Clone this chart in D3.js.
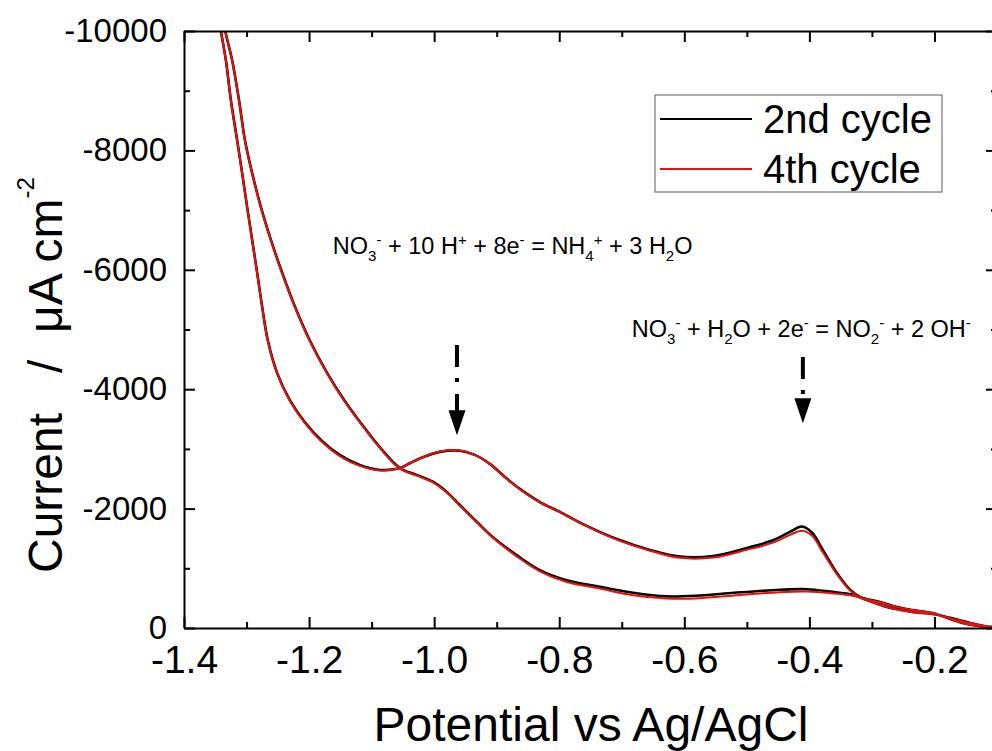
<!DOCTYPE html>
<html>
<head>
<meta charset="utf-8">
<script src="https://cdn.jsdelivr.net/npm/d3@7"></script>
<style>
  html, body { margin: 0; padding: 0; background: #fff; }
  text { font-family: "Liberation Sans", Arial, sans-serif; }
</style>
</head>
<body>
<div id="cv"></div>
<script>
// axis ticks
var xTicks = [-1.4, -1.2, -1.0, -0.8, -0.6, -0.4, -0.2];
var xMinor = [-1.3, -1.1, -0.9, -0.7, -0.5, -0.3, -0.1];
var yTicks = [0, -2000, -4000, -6000, -8000, -10000];
var yMinor = [-1000, -3000, -5000, -7000, -9000];

// cathodic scan (from -0.1 V towards -1.35 V), potential in V
var fwdPotential = [-0.100, -0.127, -0.155, -0.180, -0.203, -0.235, -0.260, -0.287, -0.319, -0.335,
  -0.356, -0.378, -0.396, -0.412, -0.431, -0.458, -0.500, -0.554, -0.607, -0.655,
  -0.708, -0.762, -0.799, -0.831, -0.863, -0.887, -0.911, -0.935, -0.959, -0.991,
  -1.018, -1.039, -1.055, -1.087, -1.119, -1.151, -1.179, -1.207, -1.231, -1.251,
  -1.266, -1.275, -1.283, -1.291, -1.299, -1.307, -1.315, -1.325, -1.333, -1.341, -1.346];
// current density, uA cm-2
var fwdCurrent2 = [-20, -30, -85, -170, -250, -300, -350, -435, -520, -640,
  -920, -1300, -1600, -1700, -1610, -1470, -1340, -1205, -1195, -1307,
  -1490, -1740, -1945, -2110, -2330, -2530, -2750, -2900, -2970, -2950,
  -2860, -2760, -2680, -2647, -2730, -2900, -3130, -3450, -3820, -4270,
  -4820, -5380, -5950, -6500, -7050, -7620, -8170, -8840, -9510, -10000, -10350];
var fwdCurrent4 = [-20, -30, -85, -170, -250, -300, -350, -430, -515, -630,
  -900, -1260, -1550, -1630, -1560, -1430, -1310, -1180, -1175, -1295,
  -1480, -1735, -1940, -2105, -2325, -2525, -2750, -2900, -2975, -2955,
  -2860, -2760, -2680, -2640, -2715, -2880, -3110, -3435, -3810, -4260,
  -4810, -5370, -5940, -6490, -7040, -7610, -8160, -8830, -9500, -10000, -10350];

// anodic return scan (from -1.34 V back to -0.1 V)
var revPotential = [-1.339, -1.334, -1.323, -1.312, -1.3025, -1.291, -1.277, -1.261, -1.243, -1.2225,
  -1.199, -1.171, -1.144, -1.117, -1.087, -1.055, -1.027, -1.002, -0.980, -0.959,
  -0.932, -0.906, -0.868, -0.831, -0.788, -0.735, -0.682, -0.628, -0.575, -0.520,
  -0.447, -0.404, -0.367, -0.330, -0.308, -0.276, -0.235, -0.199, -0.175, -0.143,
  -0.108, -0.100];
var revCurrent2 = [-10350, -10000, -9510, -8840, -8170, -7620, -7050, -6500, -5950, -5380,
  -4820, -4270, -3820, -3430, -3030, -2680, -2560, -2450, -2280, -2060,
  -1780, -1520, -1220, -970, -800, -690, -590, -530, -545, -590,
  -640, -650, -610, -555, -470, -350, -270, -230, -170, -85,
  -10, 0];
var revCurrent4 = [-10350, -10000, -9500, -8830, -8160, -7610, -7040, -6490, -5940, -5370,
  -4810, -4260, -3810, -3420, -3020, -2670, -2550, -2440, -2270, -2050,
  -1770, -1510, -1200, -950, -770, -660, -550, -495, -500, -545,
  -600, -610, -585, -540, -465, -350, -265, -225, -165, -85,
  -10, 0];

var seriesNames = ["2nd cycle", "4th cycle"];

// annotation arrows (potential, top current, tip current)
var arrowPotential = [-0.9635, -0.4104];
var arrowTop = [-4740, -4540];
var arrowTip = [-3230, -3430];

var W = 992, H = 751;
var pLeft = 184, pTop = 31, pRight = 997, pBottom = 628;

var svg = d3.select("#cv").append("svg")
    .attr("width", W)
    .attr("height", H)
    .style("display", "block");

var x = d3.scaleLinear().domain([-1.4, -0.1]).range([pLeft, pRight]);
var y = d3.scaleLinear().domain([0, -10000]).range([pBottom, pTop]);

svg.append("clipPath").attr("id", "plotClip")
  .append("rect")
    .attr("x", pLeft).attr("y", pTop)
    .attr("width", pRight - pLeft).attr("height", pBottom - pTop);

// curves
var line = d3.line()
    .x(function(d) { return x(d[0]); })
    .y(function(d) { return y(d[1]); })
    .curve(d3.curveCatmullRom.alpha(0.5));

var cycles = [
  { pts: d3.zip(fwdPotential, fwdCurrent2).concat(d3.zip(revPotential, revCurrent2)), color: "#000000", w: 2.6 },
  { pts: d3.zip(fwdPotential, fwdCurrent4).concat(d3.zip(revPotential, revCurrent4)), color: "#e8100a", w: 2 }
];

svg.append("g").attr("clip-path", "url(#plotClip)")
  .selectAll("path")
  .data(cycles)
  .enter().append("path")
    .attr("d", function(d) { return line(d.pts); })
    .attr("fill", "none")
    .attr("stroke", function(d) { return d.color; })
    .attr("stroke-width", function(d) { return d.w; })
    .attr("stroke-linejoin", "round");

// axes
function styleAxis(size) {
  return function(g) {
    g.select(".domain").attr("stroke", "#000").attr("stroke-width", 2);
    g.selectAll(".tick line").attr("stroke", "#000").attr("stroke-width", 2);
    g.selectAll("text")
      .attr("font-family", "'Liberation Sans', Arial, sans-serif")
      .attr("font-size", size)
      .attr("fill", "#000");
  };
}
function minor(g) {
  g.select(".domain").remove();
  g.selectAll(".tick line").attr("stroke", "#000").attr("stroke-width", 2);
}

svg.append("g")
    .attr("transform", "translate(0," + pBottom + ")")
    .call(d3.axisBottom(x).tickValues(xTicks).tickSizeInner(-11).tickSizeOuter(0)
      .tickPadding(17).tickFormat(function(d) { return d.toFixed(1); }))
    .call(styleAxis(39));
svg.append("g")
    .attr("transform", "translate(0," + pBottom + ")")
    .call(d3.axisBottom(x).tickValues(xMinor).tickSize(-6).tickFormat(""))
    .call(minor);

svg.append("g")
    .attr("transform", "translate(0," + pTop + ")")
    .call(d3.axisTop(x).tickValues(xTicks).tickSizeInner(-11).tickSizeOuter(0).tickFormat(""))
    .call(styleAxis(34));
svg.append("g")
    .attr("transform", "translate(0," + pTop + ")")
    .call(d3.axisTop(x).tickValues(xMinor).tickSize(-6).tickFormat(""))
    .call(minor);

svg.append("g")
    .attr("transform", "translate(" + pLeft + ",0)")
    .call(d3.axisLeft(y).tickValues(yTicks).tickSizeInner(-11).tickSizeOuter(0)
      .tickPadding(17).tickFormat(function(d) { return String(d); }))
    .call(styleAxis(33));
svg.append("g")
    .attr("transform", "translate(" + pLeft + ",0)")
    .call(d3.axisLeft(y).tickValues(yMinor).tickSize(-6).tickFormat(""))
    .call(minor);

svg.append("g")
    .attr("transform", "translate(" + pRight + ",0)")
    .call(d3.axisRight(y).tickValues(yTicks).tickSizeInner(-11).tickSizeOuter(0).tickFormat(""))
    .call(styleAxis(34));
svg.append("g")
    .attr("transform", "translate(" + pRight + ",0)")
    .call(d3.axisRight(y).tickValues(yMinor).tickSize(-6).tickFormat(""))
    .call(minor);

// axis titles
svg.append("text")
    .attr("x", 591).attr("y", 741)
    .attr("text-anchor", "middle")
    .attr("font-size", 48)
    .text("Potential vs Ag/AgCl");

var yt = svg.append("text")
    .attr("transform", "translate(62,573) rotate(-90)")
    .attr("font-size", 48)
    .style("white-space", "pre");
yt.append("tspan").text("Current   /  \u03bcA cm");
yt.append("tspan").attr("dy", -28).attr("font-size", 24).text("-2");

// rich text helper: 0 normal, 1 subscript, 2 superscript
function richText(sel, parts, size) {
  var cur = 0;
  parts.forEach(function(p) {
    var off = p[1] === 1 ? 7 : (p[1] === 2 ? -9 : 0);
    sel.append("tspan")
      .attr("dy", off - cur)
      .attr("font-size", p[1] ? size * 0.64 : size)
      .text(p[0]);
    cur = off;
  });
}

var eq1 = svg.append("text")
    .attr("x", x(-1.162)).attr("y", y(-6265))
    .style("white-space", "pre");
richText(eq1, [["NO", 0], ["3", 1], ["-", 2], [" + 10 H", 0], ["+", 2], [" + 8e", 0], ["-", 2],
  [" = NH", 0], ["4", 1], ["+", 2], [" + 3 H", 0], ["2", 1], ["O", 0]], 23.5);

var eq2 = svg.append("text")
    .attr("x", x(-0.684)).attr("y", y(-4874))
    .style("white-space", "pre");
richText(eq2, [["NO", 0], ["3", 1], ["-", 2], [" + H", 0], ["2", 1], ["O + 2e", 0], ["-", 2],
  [" = NO", 0], ["2", 1], ["-", 2], [" + 2 OH", 0], ["-", 2]], 23.5);

// dash-dot arrows
var headLen = 25, headW = 17;
arrowPotential.forEach(function(v, i) {
  var ax = x(v), y0 = y(arrowTop[i]), y1 = y(arrowTip[i]);
  svg.append("line")
      .attr("x1", ax).attr("x2", ax)
      .attr("y1", y0).attr("y2", y1 - headLen + 1)
      .attr("stroke", "#000")
      .attr("stroke-width", 4)
      .attr("stroke-dasharray", "22,11,4,12");
  svg.append("path")
      .attr("d", "M" + (ax - headW / 2) + "," + (y1 - headLen) + "L" + (ax + headW / 2) + "," + (y1 - headLen) + "L" + ax + "," + y1 + "Z")
      .attr("fill", "#000");
});

// legend
var lg = svg.append("g");
lg.append("rect")
    .attr("x", 655).attr("y", 95)
    .attr("width", 287).attr("height", 97)
    .attr("fill", "#fff")
    .attr("stroke", "#808080")
    .attr("stroke-width", 1.3);
seriesNames.forEach(function(name, i) {
  lg.append("line")
      .attr("x1", 660).attr("x2", 752)
      .attr("y1", 119 + i * 50).attr("y2", 119 + i * 50)
      .attr("stroke", cycles[i].color)
      .attr("stroke-width", 2);
  lg.append("text")
      .attr("x", 763).attr("y", 133 + i * 50)
      .attr("font-size", 40)
      .text(name);
});
</script>
</body>
</html>
